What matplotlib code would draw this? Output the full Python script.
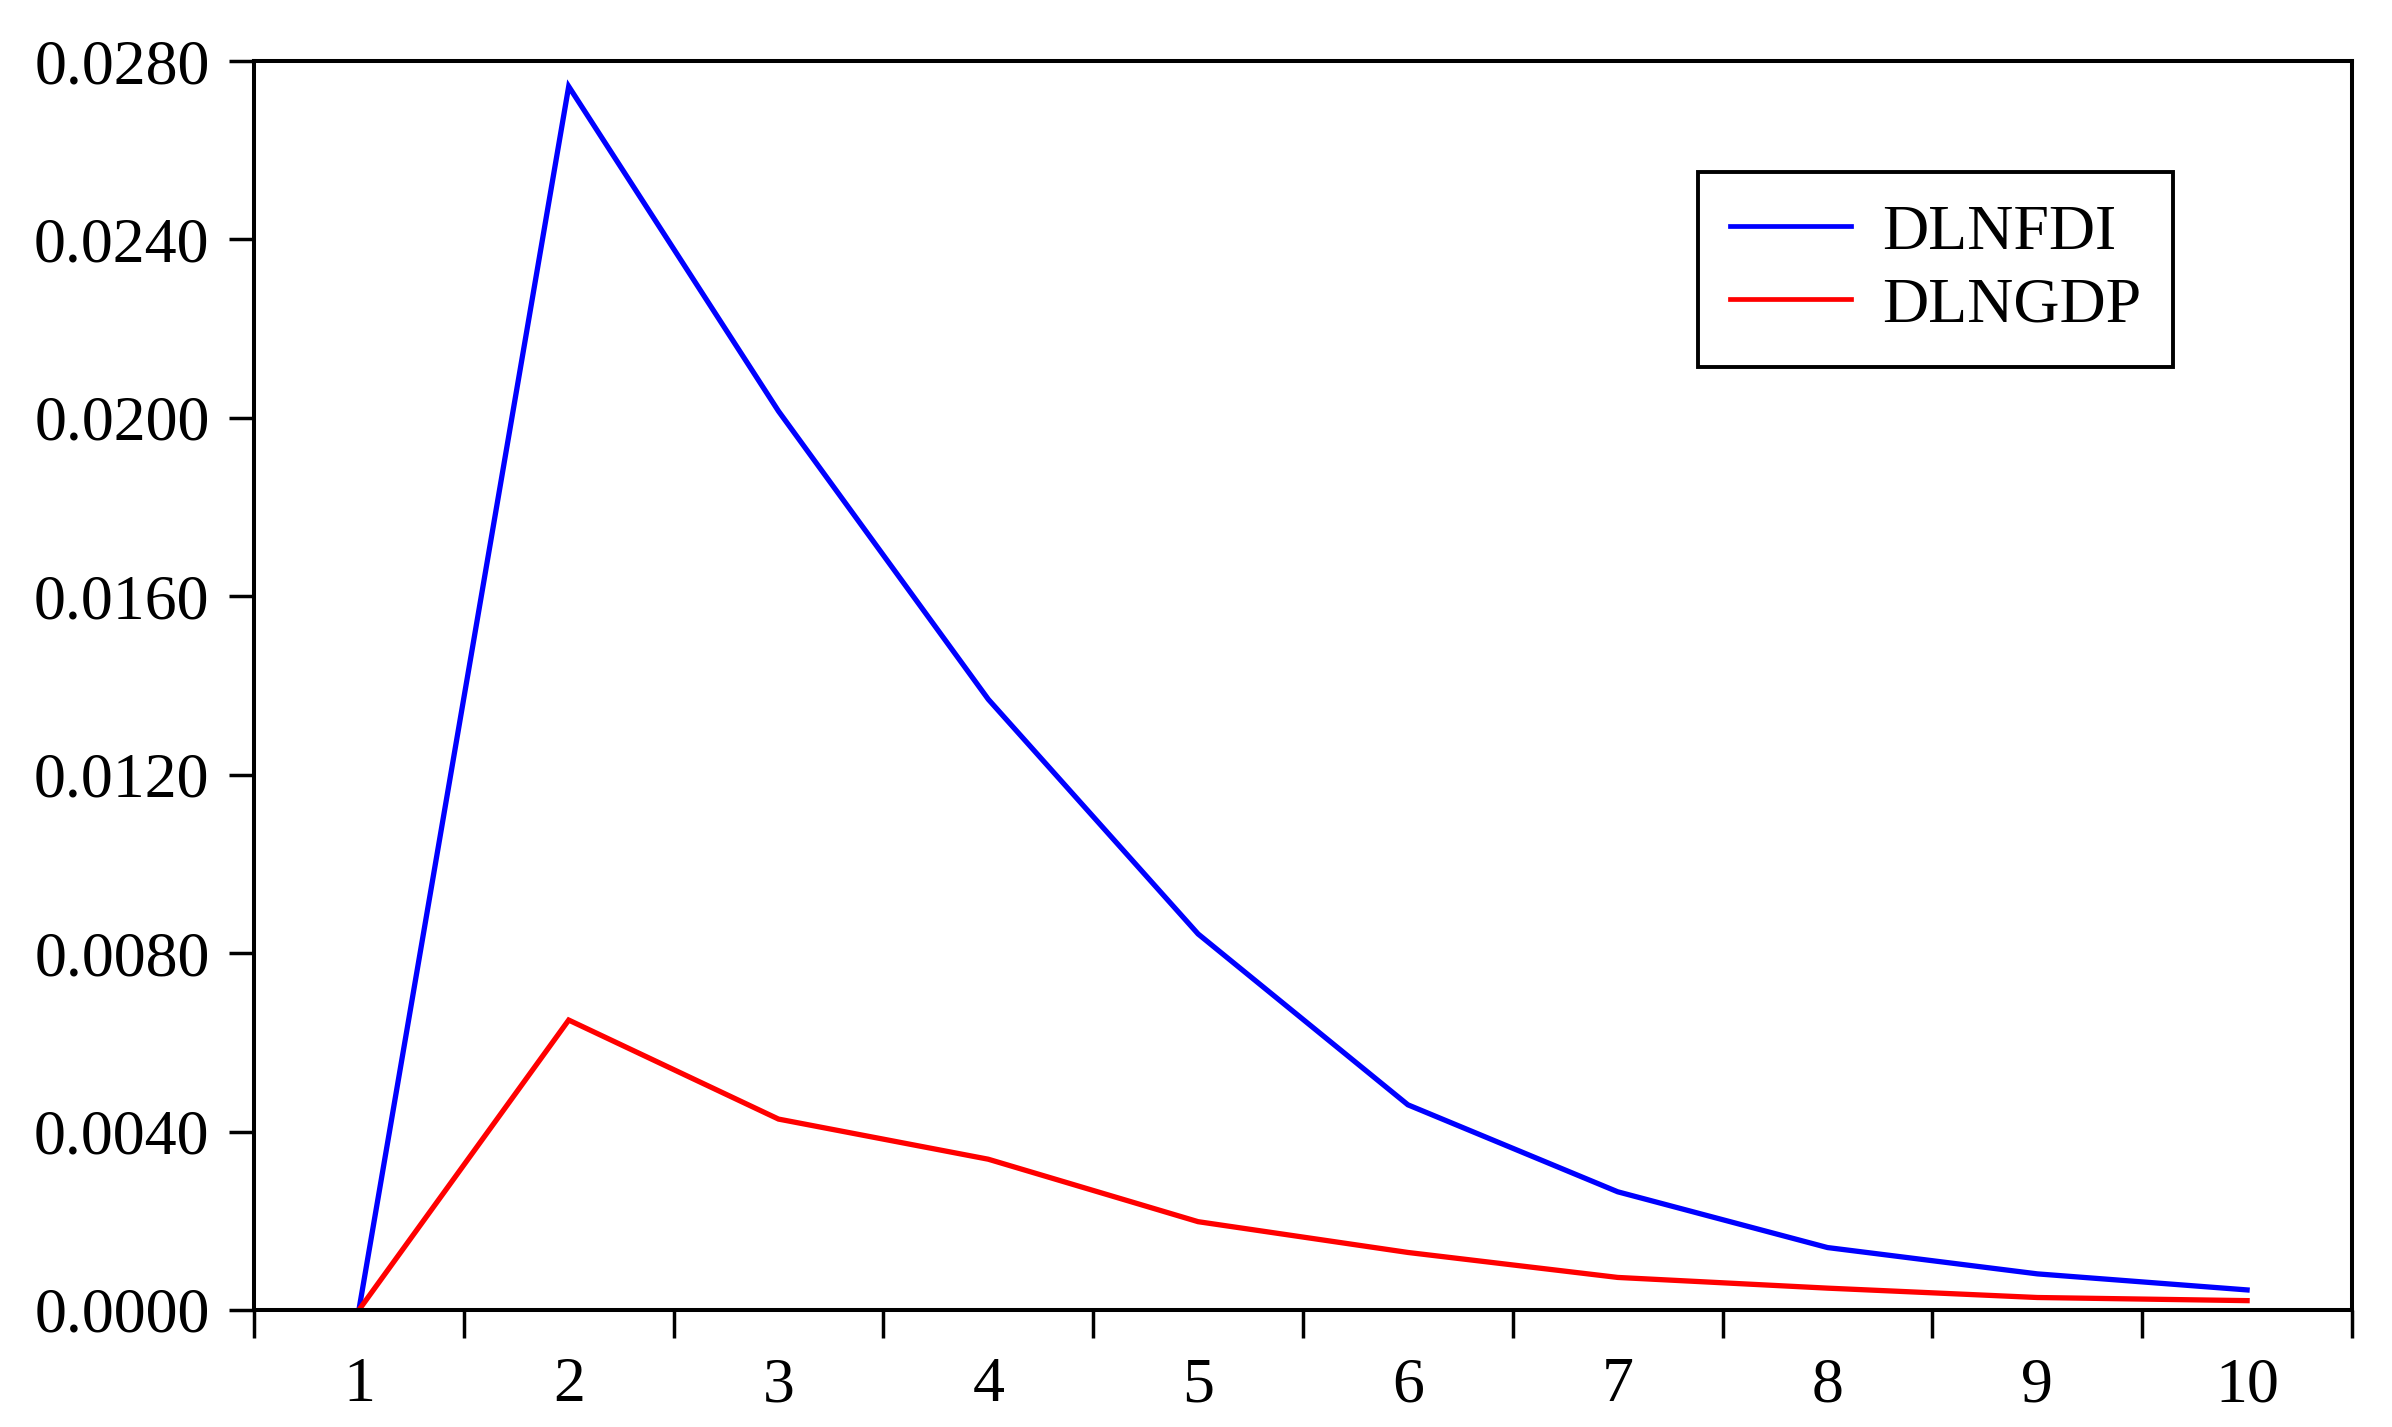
import matplotlib
matplotlib.use("Agg")
import matplotlib.pyplot as plt
from matplotlib.ticker import FixedLocator, NullFormatter, FixedFormatter

periods = [1, 2, 3, 4, 5, 6, 7, 8, 9, 10]
period_labels = ["1", "2", "3", "4", "5", "6", "7", "8", "9", "10"]
dlnfdi = [0.0, 0.02743, 0.02015, 0.01369, 0.00843, 0.00460, 0.00265, 0.00140, 0.00081, 0.00045]
dlngdp = [0.0, 0.00650, 0.00428, 0.00338, 0.00198, 0.00129, 0.00073, 0.00049, 0.00028, 0.00021]
y_ticks = [0.0, 0.004, 0.008, 0.012, 0.016, 0.020, 0.024, 0.028]
y_tick_labels = ["0.0000", "0.0040", "0.0080", "0.0120", "0.0160", "0.0200", "0.0240", "0.0280"]

plt.rcParams['font.family'] = ['Liberation Serif', 'DejaVu Serif']

fig = plt.figure(figsize=(23.92, 14.27), dpi=100)
ax = fig.add_axes([254/2392, 1-1310/1427, (2352-254)/2392, (1310-61)/1427])

ax.plot(periods, dlnfdi, color=(0, 0, 1), lw=3.8, label="DLNFDI", solid_joinstyle='miter')
ax.plot(periods, dlngdp, color=(1, 0, 0), lw=3.8, label="DLNGDP", solid_joinstyle='miter')

ax.set_xlim(0.5, 10.5)
ax.set_ylim(0, 0.028)

ax.yaxis.set_major_locator(FixedLocator(y_ticks))
ax.yaxis.set_major_formatter(FixedFormatter(y_tick_labels))

bounds = [p - 0.5 for p in periods] + [periods[-1] + 0.5]
ax.xaxis.set_major_locator(FixedLocator(bounds))
ax.xaxis.set_major_formatter(NullFormatter())
ax.xaxis.set_minor_locator(FixedLocator(periods))
ax.xaxis.set_minor_formatter(FixedFormatter(period_labels))

ax.tick_params(axis='y', which='major', direction='out', length=18, width=2.5,
               labelsize=46, pad=14, color='black')
ax.tick_params(axis='x', which='major', direction='out', length=20, width=2.5, color='black')
ax.tick_params(axis='x', which='minor', length=0, labelsize=46, pad=34)

for s in ax.spines.values():
    s.set_linewidth(2.9)
    s.set_color('black')

leg = ax.legend(loc='upper left', bbox_to_anchor=(1698/2392, 1-172/1427),
                bbox_transform=fig.transFigure, fontsize=46, frameon=True,
                fancybox=False, edgecolor='black', framealpha=1,
                handlelength=1.9, handletextpad=0.48, borderpad=0.5,
                labelspacing=0.22, borderaxespad=0)
leg.get_frame().set_linewidth(2.8)
for l in leg.get_lines():
    l.set_linewidth(3.4)

fig.savefig("out.png", dpi=100)
